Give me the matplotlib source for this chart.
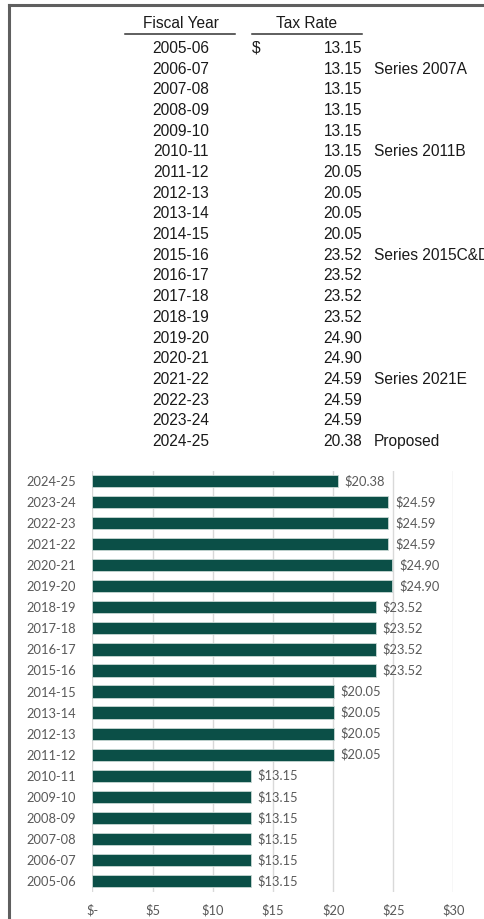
import matplotlib
matplotlib.use("Agg")
import matplotlib.pyplot as plt
from matplotlib.lines import Line2D

years = ["2005-06", "2006-07", "2007-08", "2008-09", "2009-10", "2010-11",
         "2011-12", "2012-13", "2013-14", "2014-15", "2015-16", "2016-17",
         "2017-18", "2018-19", "2019-20", "2020-21", "2021-22", "2022-23",
         "2023-24", "2024-25"]
rates = [13.15, 13.15, 13.15, 13.15, 13.15, 13.15,
         20.05, 20.05, 20.05, 20.05, 23.52, 23.52,
         23.52, 23.52, 24.90, 24.90, 24.59, 24.59,
         24.59, 20.38]
notes = ["", "Series 2007A", "", "", "", "Series 2011B",
         "", "", "", "", "Series 2015C&D", "",
         "", "", "", "", "Series 2021E", "",
         "", "Proposed"]
xticks = [0, 5, 10, 15, 20, 25, 30]
xtick_labels = ["$-", "$5", "$10", "$15", "$20", "$25", "$30"]

W, H = 485, 919
fig = plt.figure(figsize=(W / 100, H / 100), dpi=100)
fig.patch.set_facecolor("white")

def fx(px):
    return px / W

def fy(py):
    return 1 - py / H

# border (top and left)
fig.add_artist(Line2D([fx(9.5), 1], [fy(5), fy(5)], color="#5f5f5f", lw=2.2))
fig.add_artist(Line2D([fx(9.5), fx(9.5)], [fy(5), 0], color="#5f5f5f", lw=2.2))

# table
tfont = dict(family=["Liberation Sans", "DejaVu Sans"], fontsize=11.2, color="#1a1a1a")
fig.text(fx(181), fy(23), "Fiscal Year", ha="center", va="center", **tfont)
fig.text(fx(307), fy(23), "Tax Rate", ha="center", va="center", **tfont)
fig.add_artist(Line2D([fx(125), fx(235)], [fy(33.5), fy(33.5)], color="#333333", lw=1.1))
fig.add_artist(Line2D([fx(252), fx(362)], [fy(33.5), fy(33.5)], color="#333333", lw=1.1))

row0, dy = 48.5, 20.68
for i, (yr, r, n) in enumerate(zip(years, rates, notes)):
    y = fy(row0 + i * dy)
    fig.text(fx(181), y, yr, ha="center", va="center", **tfont)
    fig.text(fx(362.5), y, f"{r:.2f}", ha="right", va="center", **tfont)
    if n:
        fig.text(fx(374), y, n, ha="left", va="center", **tfont)
    if i == 0:
        fig.text(fx(252), y, "$", ha="left", va="center", **tfont)

# bar chart
x0, x30 = 92.5, 453.5
top, bottom = 470.5, 891.5
ax = fig.add_axes([fx(x0), fy(bottom), fx(x30) - fx(x0), (bottom - top) / H])
ypos = list(range(len(years)))
ax.barh(ypos, rates, height=0.58, color="#0b4f47", edgecolor="#c8d8d4", linewidth=0.6, zorder=3)
ax.set_xlim(0, 30)
ax.set_ylim(-0.5, len(years) - 0.5)
ax.set_yticks(ypos)
lfont = dict(family=["Lato", "DejaVu Sans"], fontsize=9.3, color="#595959")
ax.set_yticklabels(years, **lfont)
ax.set_xticks(xticks)
ax.set_xticklabels(xtick_labels, **lfont)
ax.tick_params(axis="both", length=0)
ax.tick_params(axis="y", pad=12)
ax.tick_params(axis="x", pad=9)
ax.grid(axis="x", color="#d9d9d9", lw=1.0, zorder=0)
for s in ax.spines.values():
    s.set_visible(False)
for yp, r in zip(ypos, rates):
    ax.annotate(f"${r:.2f}", (r, yp), xytext=(7, 0), textcoords="offset pixels",
                ha="left", va="center", **lfont)

fig.savefig("out.png", dpi=100, facecolor="white")
